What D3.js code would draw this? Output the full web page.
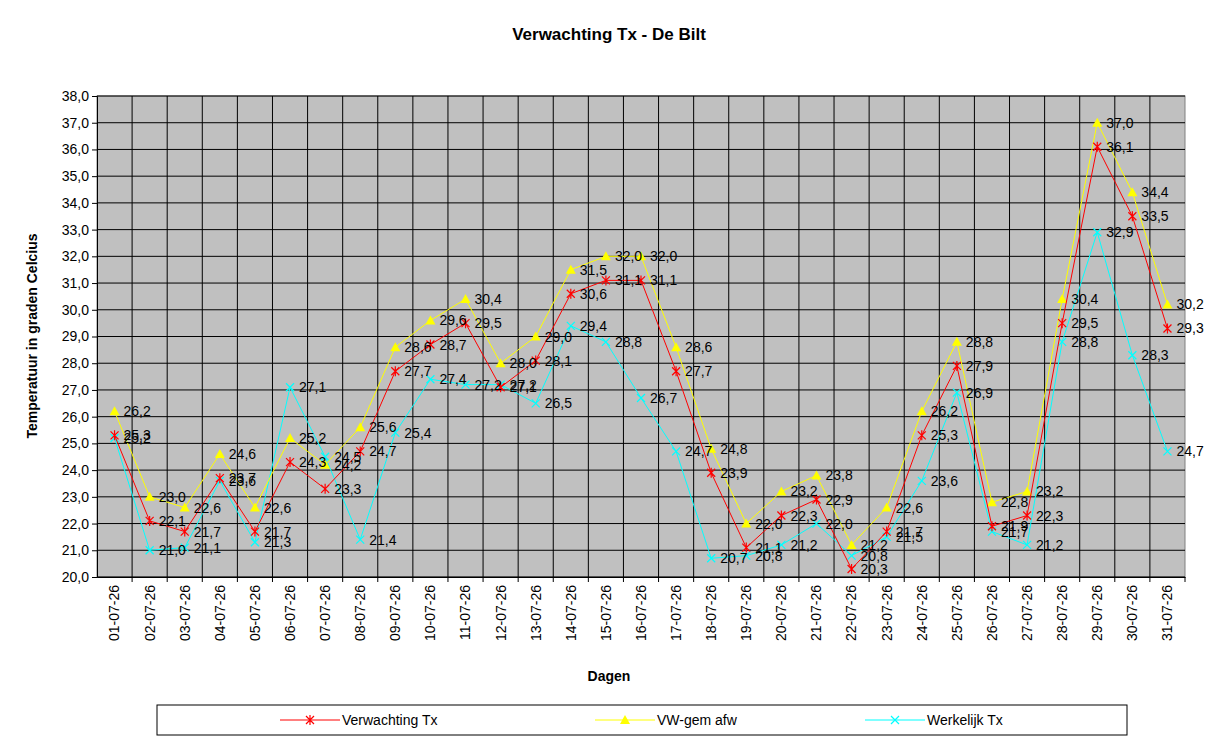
<!doctype html>
<html>
<head>
<script src="https://cdn.jsdelivr.net/npm/d3@7"></script>
<style>body{margin:0;background:#fff;font-family:Arial,"Liberation Sans",sans-serif}</style>
</head>
<body>
<svg id="chart" width="1220" height="747"></svg>
<script>
var days = d3.range(1, 32).map(d => (d < 10 ? "0" + d : "" + d) + "-07-26");
var verwachting = [25.3,22.1,21.7,23.7,21.7,24.3,23.3,24.7,27.7,28.7,29.5,27.1,28.1,30.6,31.1,31.1,27.7,23.9,21.1,22.3,22.9,20.3,21.7,25.3,27.9,21.9,22.3,29.5,36.1,33.5,29.3];
var vwGem = [26.2,23.0,22.6,24.6,22.6,25.2,24.2,25.6,28.6,29.6,30.4,28.0,29.0,31.5,32.0,32.0,28.6,24.8,22.0,23.2,23.8,21.2,22.6,26.2,28.8,22.8,23.2,30.4,37.0,34.4,30.2];
var werkelijk = [25.2,21.0,21.1,23.6,21.3,27.1,24.5,21.4,25.4,27.4,27.2,27.2,26.5,29.4,28.8,26.7,24.7,20.7,20.8,21.2,22.0,20.8,21.5,23.6,26.9,21.7,21.2,28.8,32.9,28.3,24.7];
var yTicks = d3.range(20, 38.01, 1);

var svg = d3.select("#chart");
var L = 97, R = 1185, T = 96, B = 577;
var x = d3.scaleBand().domain(days).range([L, R]);
var y = d3.scaleLinear().domain([20, 38]).range([B, T]);
var fmt = v => v.toFixed(1).replace(".", ",");

svg.append("text").attr("x", 609).attr("y", 40).attr("text-anchor", "middle")
  .attr("font-size", 17).attr("font-weight", "bold").text("Verwachting Tx - De Bilt");

svg.append("rect").attr("x", L).attr("y", T).attr("width", R - L).attr("height", B - T)
  .attr("fill", "#c0c0c0").attr("stroke", "#808080");

svg.append("g").selectAll("line").data(yTicks).enter().append("line")
  .attr("x1", L).attr("x2", R).attr("y1", d => y(d)).attr("y2", d => y(d)).attr("stroke", "#000");
svg.append("g").selectAll("line").data(days.slice(1)).enter().append("line")
  .attr("x1", d => x(d)).attr("x2", d => x(d)).attr("y1", T).attr("y2", B).attr("stroke", "#000");

var ya = svg.append("g").attr("transform", "translate(" + L + ",0)")
  .call(d3.axisLeft(y).tickValues(yTicks).tickFormat(fmt).tickSize(5));
ya.selectAll("text").attr("font-size", 14).attr("font-family", "Arial,Liberation Sans");
var xa = svg.append("g").attr("transform", "translate(0," + B + ")")
  .call(d3.axisBottom(x).tickSize(0).tickPadding(0));
xa.selectAll("text").attr("font-size", 14).attr("font-family", "Arial,Liberation Sans")
  .attr("text-anchor", "end").attr("dy", "0.35em")
  .attr("transform", "translate(0,8) rotate(90)").attr("text-anchor", "start")
  .attr("transform", function(){ return "rotate(90) translate(8,0)"; });
xa.selectAll("text").attr("transform", "rotate(90) translate(8,0)").attr("text-anchor","start").attr("dy","0.35em");
// rotate so reading bottom-to-top like reference
xa.selectAll("text").attr("transform", "translate(0,8) rotate(-90)").attr("text-anchor", "end").attr("x", 0).attr("y", 0);
svg.append("g").selectAll("line").data(days.slice(1).concat([null])).enter().append("line")
  .attr("x1", d => d ? x(d) : R).attr("x2", d => d ? x(d) : R).attr("y1", B).attr("y2", B + 5).attr("stroke", "#000");

svg.append("text").attr("x", 609).attr("y", 681).attr("text-anchor", "middle")
  .attr("font-size", 14).attr("font-weight", "bold").text("Dagen");
svg.append("text").attr("transform", "translate(37,336) rotate(-90)").attr("text-anchor", "middle")
  .attr("font-size", 14).attr("font-weight", "bold").text("Temperatuur in graden Celcius");

var cx = d => x(d) + x.bandwidth() / 2;
function marker(g, type, color) {
  if (type === "star") {
    g.append("path").attr("d", "M-4,-4L4,4M-4,4L4,-4M0,-5L0,5").attr("stroke", color).attr("stroke-width", 1.2);
  } else if (type === "tri") {
    g.append("path").attr("d", "M0,-5L5,4L-5,4Z").attr("fill", color);
  } else {
    g.append("path").attr("d", "M-4,-4L4,4M-4,4L4,-4").attr("stroke", color).attr("stroke-width", 1.2);
  }
}
var series = [
  {name: "Verwachting Tx", vals: verwachting, color: "#ff0000", m: "star"},
  {name: "VW-gem afw", vals: vwGem, color: "#ffff00", m: "tri"},
  {name: "Werkelijk Tx", vals: werkelijk, color: "#00ffff", m: "x"}
];
var line = d3.line().x((d, i) => cx(days[i])).y(d => y(d));
series.slice().reverse().forEach(function(s) {
  svg.append("path").datum(s.vals).attr("d", line).attr("fill", "none").attr("stroke", s.color).attr("stroke-width", 1);
  s.vals.forEach(function(v, i) {
    marker(svg.append("g").attr("transform", "translate(" + cx(days[i]) + "," + y(v) + ")"), s.m, s.color);
  });
});
series.forEach(function(s) {
  svg.append("g").selectAll("text").data(s.vals).enter().append("text")
    .attr("x", (d, i) => cx(days[i]) + 9).attr("y", d => y(d) + 5)
    .attr("font-size", 14).text(fmt);
});

svg.append("rect").attr("x", 157).attr("y", 705).attr("width", 970).attr("height", 30)
  .attr("fill", "#fff").attr("stroke", "#000");
[[280, 0], [595, 1], [865, 2]].forEach(function(p) {
  var s = series[p[1]];
  svg.append("line").attr("x1", p[0]).attr("x2", p[0] + 60).attr("y1", 720).attr("y2", 720).attr("stroke", s.color);
  marker(svg.append("g").attr("transform", "translate(" + (p[0] + 30) + ",720)"), s.m, s.color);
  svg.append("text").attr("x", p[0] + 62).attr("y", 725).attr("font-size", 14).text(s.name);
});
</script>
</body>
</html>
